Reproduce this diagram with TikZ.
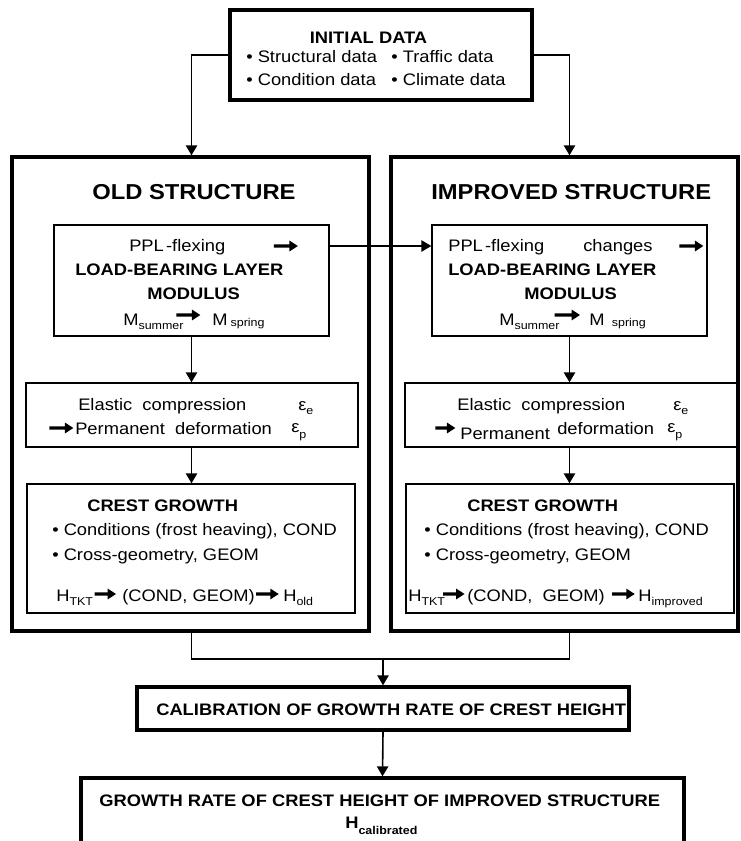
\documentclass[tikz,border=0pt]{standalone}
\usepackage{fontspec}
\setmainfont{Liberation Sans}
\usepackage{graphicx}
\usetikzlibrary{fit}
\usetikzlibrary{shapes.arrows}
\usetikzlibrary{arrows.meta}
\newcommand{\cellbox}[6]{ \node[#1, fit={(#3,#4) (#5,#6)}] (#2) {};}
\newcommand{\lablnode}[5][lbl]{\node[#1] (#2) at ( #3 , #4 ) {\scalebox{1.1}[1]{#5}};}
\newcommand{\lablarrow}[4]{\node[smallarr, minimum height=#4] (#1) at ( #2 , #3 ) {};}
\newcommand{\lowsub}[2]{\raisebox{-#1}{\fontsize{8.5}{9}\selectfont #2}}
\tikzset{
  thickbox/.style={draw, line width=2.5pt, inner sep=0pt},
  thinbox/.style={draw, line width=1pt, inner sep=0pt},
  lbl/.style={anchor=base west, inner sep=0pt, font=\fontsize{12.5}{14}\selectfont},
  ttl/.style={lbl, font=\fontsize{16.2}{18}\selectfont\bfseries},
  smallarr/.style={single arrow, fill=black, draw=none, inner xsep=0pt, inner ysep=1.1pt,
    single arrow head extend=2.8pt, single arrow tip angle=66, minimum width=0pt},
  conn/.style={line width=1.2pt, -{Triangle[length=7.5pt,width=8.5pt]}},
  joinline/.style={line width=1.2pt},
}
\begin{document}
\begin{tikzpicture}[x=0.75pt,y=-0.75pt]
            \path[use as bounding box, clip] (0,0) rectangle (741,841);

            % frames
            \cellbox{thickbox}{init}{230}{10}{532}{100}
            \cellbox{thickbox}{old}{12}{157}{369}{631}
            \cellbox{thickbox}{imp}{391}{157}{738}{631}
            \cellbox{thinbox}{oldlbm}{54}{225}{329}{336}
            \cellbox{thinbox}{implbm}{432}{225}{707}{336}
            \cellbox{thinbox}{oldel}{26}{383}{358}{447}
            \cellbox{thinbox}{impel}{405}{383}{737}{447}
            \cellbox{thinbox}{oldcr}{27}{484}{355}{613}
            \cellbox{thinbox}{impcr}{406}{484}{734}{613}
            \cellbox{thickbox}{calib}{137}{687}{629}{730}
            \cellbox{thickbox}{final}{81}{778}{684}{850}

            % initial data
            \lablnode{inittl}{309.5}{44}{\textbf{INITIAL DATA}}
            \lablnode{initsd}{246}{62.3}{• Structural data}
            \lablnode{inittd}{391}{62.3}{• Traffic data}
            \lablnode{initcd}{246}{86}{• Condition data}
            \lablnode{initcl}{391}{86}{• Climate data}

            % titles
            \lablnode[ttl]{oldttl}{92}{200}{OLD STRUCTURE}
            \lablnode[ttl]{impttl}{431}{200}{IMPROVED STRUCTURE}

            % modulus, old
            \lablnode{oldppl}{129}{252}{PPL\kern1.5pt-flexing}
            \lablarrow{oldpplarr}{284.5}{246}{18pt}
            \lablnode{oldlbl}{75}{276}{\textbf{LOAD-BEARING LAYER}}
            \lablnode{oldmod}{147}{299.5}{\textbf{MODULUS}}
            \lablnode{oldms}{123}{325.5}{M\lowsub{3pt}{summer}}
            \lablarrow{oldmarr}{187}{315}{18pt}
            \lablnode{oldmp}{212}{325.5}{M\,\lowsub{1pt}{spring}}

            % modulus, improved
            \lablnode{impppl}{448}{252}{PPL\kern1.5pt-flexing}
            \lablnode{impchg}{583}{252}{changes}
            \lablarrow{imppplarr}{690}{246}{18pt}
            \lablnode{implbl}{448}{276}{\textbf{LOAD-BEARING LAYER}}
            \lablnode{impmod}{524}{299.5}{\textbf{MODULUS}}
            \lablnode{impms}{499}{325.5}{M\lowsub{3pt}{summer}}
            \lablarrow{impmarr}{566}{315}{19pt}
            \lablnode{impmp}{589}{325.5}{M\hspace{5pt}\lowsub{1pt}{spring}}

            % compression
            \lablnode{oldela}{78}{410.5}{Elastic\ \ compression}
            \lablnode{oldepe}{298}{410.5}{ε\lowsub{3pt}{e}}
            \lablarrow{oldelarr}{60}{428}{18pt}
            \lablnode{oldperm}{75}{434}{Permanent\ \ deformation}
            \lablnode{oldepp}{291}{432}{ε\lowsub{5pt}{p}}

            \lablnode{impela}{457}{410.5}{Elastic\ \ compression}
            \lablnode{impepe}{673}{410.5}{ε\lowsub{3pt}{e}}
            \lablarrow{impelarr}{444}{428}{15pt}
            \lablnode{impperm}{460}{439}{Permanent}
            \lablnode{impdef}{557}{434}{deformation}
            \lablnode{impepp}{667}{432}{ε\lowsub{5pt}{p}}

            % crest growth
            \lablnode{oldcg}{87}{511.5}{\textbf{CREST GROWTH}}
            \lablnode{oldcond}{52}{535}{• Conditions (frost heaving), COND}
            \lablnode{oldgeom}{52}{560}{• Cross-geometry, GEOM}
            \lablnode{oldht}{56}{601}{H\lowsub{3.5pt}{TKT}}
            \lablarrow{oldharr}{104}{594}{16pt}
            \lablnode{oldcgm}{122}{601}{(COND, GEOM)}
            \lablarrow{oldharrb}{266}{594}{17pt}
            \lablnode{oldhold}{283}{601}{H\lowsub{3pt}{old}}

            \lablnode{impcg}{467}{511.5}{\textbf{CREST GROWTH}}
            \lablnode{impcond}{424}{535}{• Conditions (frost heaving), COND}
            \lablnode{impgeom}{424}{560}{• Cross-geometry, GEOM}
            \lablnode{impht}{408}{601}{H\lowsub{3.5pt}{TKT}}
            \lablarrow{impharr}{452.5}{594}{16pt}
            \lablnode{impcgm}{467}{601}{(COND,\ \ GEOM)}
            \lablarrow{impharrb}{622}{594}{17pt}
            \lablnode{imphimp}{638}{601}{H\lowsub{3pt}{improved}}

            % calibration
            \lablnode{calibtxt}{156}{715}{\textbf{CALIBRATION OF GROWTH RATE OF CREST HEIGHT}}
            \lablnode{finaltxt}{99}{806.7}{\textbf{GROWTH RATE OF CREST HEIGHT OF IMPROVED STRUCTURE}}
            \lablnode{finalh}{345}{828.7}{\textbf{H\lowsub{4.5pt}{calibrated}}}

            % connectors
            \draw[conn] (init.west) -| (oldlbm.north |- old.north);
            \draw[conn] (init.east) -| (implbm.north |- imp.north);
            \draw[conn] (oldlbm.east |- oldpplarr) -- (implbm.west |- oldpplarr);
            \draw[conn] (oldlbm.south) -- (oldlbm.south |- oldel.north);
            \draw[conn] (oldel.south -| oldlbm.south) -- (oldlbm.south |- oldcr.north);
            \draw[conn] (implbm.south) -- (implbm.south |- impel.north);
            \draw[conn] (impel.south -| implbm.south) -- (implbm.south |- impcr.north);
            \coordinate (merge) at (383,659);
            \draw[joinline] (old.south -| oldlbm.south) |- (merge) -| (imp.south -| implbm.south);
            \draw[conn] (merge) -- (calib.north);
            \draw[conn] (calib.south) -- (final.north);

        \end{tikzpicture}
\end{document}
